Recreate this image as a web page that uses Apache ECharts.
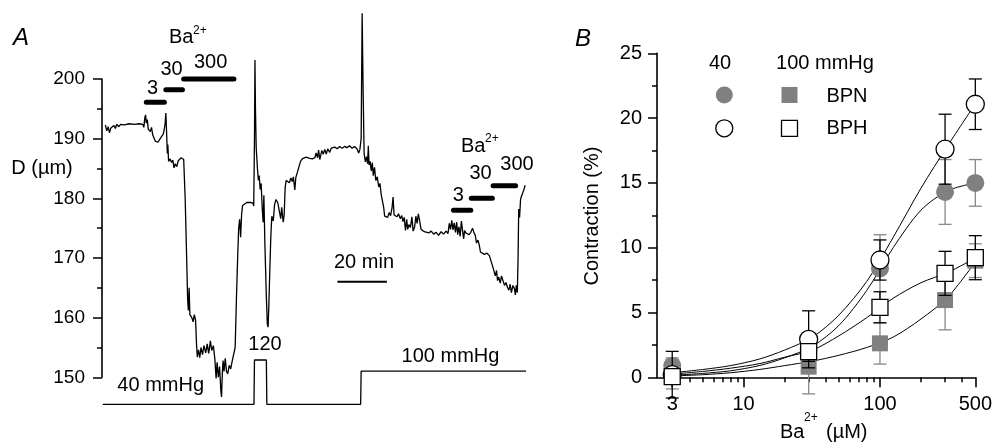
<!DOCTYPE html>
<html>
<head>
<meta charset="utf-8">
<script src="https://cdn.jsdelivr.net/npm/echarts@6/dist/echarts.min.js"></script>
<style>
  html, body { margin: 0; padding: 0; background: #fff; }
  #chart { width: 995px; height: 443px; }
</style>
</head>
<body>
<div id="chart"></div>
<script>
// ---- panel A : vessel diameter trace (time in min, D in um) ----
var traceA = [
  [1.35,192.3],[1.9,191.3],[2.5,192.0],[3.0,191.0],[3.6,191.8],[4.2,191.5],[4.8,192.2],[5.4,191.7],
  [6.0,192.4],[6.8,192.0],[7.5,192.4],[9.0,192.3],[11,192.5],[13,192.4],[15,192.5],[16.5,192.4],
  [16.9,191.9],[17.3,193.5],[17.6,194.0],[17.9,192.6],[18.3,193.2],[18.7,191.6],[19.5,191.2],[20.0,191.9],
  [20.5,190.6],[21.5,189.6],[22.6,189.4],[23.5,190.0],[24.1,189.7],[24.8,190.8],[25.5,192.5],[25.8,194.3],
  [26.1,191.0],[26.4,187.5],[26.6,189.0],[26.9,186.2],[27.5,186.6],[28.1,186.0],[28.6,186.4],[29.1,185.1],
  [29.6,185.8],[30.2,185.3],[30.8,186.3],[31.4,186.0],[32.0,186.8],[32.7,187.0],[33.0,186.5],[33.6,180],
  [34.2,170],[34.6,163],[34.9,161.2],[35.2,165.0],[35.5,160.5],[36.3,160.0],[36.8,159.3],[37.3,160.5],
  [37.8,159.6],[38.2,155.5],[38.5,153.4],[39.0,154.6],[39.5,153.3],[40.0,155.0],[40.6,153.8],[41.2,155.3],
  [41.9,154.1],[42.5,155.6],[43.1,154.0],[43.8,156.1],[44.3,154.5],[45.0,155.3],[45.6,153.0],[46.1,149.8],
  [46.5,152.5],[47.0,150.0],[47.5,151.8],[48.0,147.8],[48.3,146.7],[48.6,150.5],[48.9,152.8],[49.3,151.0],
  [49.8,153.2],[50.3,151.0],[50.8,150.6],[51.4,152.0],[52.0,151.4],[52.6,152.7],[53.3,152.9],[53.8,155],
  [54.3,163],[54.8,170],[55.2,174.9],[55.6,176.5],[56.0,173.5],[56.4,177.3],[56.8,178.8],[57.2,179.1],
  [58.5,179.3],[60,179.3],[61.0,179.2],[61.3,178.7],[61.6,190],[61.8,203.2],[62.0,195],[62.3,188.5],
  [62.8,185.0],[63.2,183.0],[63.5,183.8],[63.9,181.5],[64.3,182.5],[64.7,178.6],[65.1,176.0],[65.4,180.5],
  [65.8,172.5],[66.1,168.0],[66.4,163.5],[66.8,158.9],[67.1,158.4],[67.4,162.0],[67.8,168],[68.2,173.5],
  [68.6,177.0],[69.2,176.2],[69.7,178.9],[70.3,179.8],[71.0,179.3],[71.7,179.0],[72.2,176.6],[72.6,178.5],
  [73.2,176.0],[73.6,177.2],[74.0,181.8],[74.4,183.0],[75.1,183.3],[75.7,182.6],[76.3,183.4],[76.9,182.8],
  [77.3,183.6],[77.9,181.4],[78.3,183.5],[78.9,184.3],[79.5,184.1],[80.2,186.2],[80.9,186.6],[81.6,186.4],
  [82.4,186.9],[83.1,186.6],[84.0,186.7],[85.0,186.6],[86.0,186.8],[86.5,187.6],[87.1,186.8],[87.5,188.1],
  [88.0,186.5],[88.8,188.0],[89.4,187.4],[90.0,188.2],[90.6,187.4],[91.2,188.3],[92.0,187.7],[92.6,188.4],
  [93.3,188.1],[94.0,188.6],[95.0,188.3],[96.0,188.7],[97.0,188.4],[98.0,188.7],[99.0,188.5],[100.0,188.8],
  [101.0,188.4],[102.0,188.7],[103.0,188.3],[103.7,187.6],[104.2,188.2],[104.7,190],[105.1,211.0],[105.5,198],
  [105.9,187.5],[106.4,186.1],[106.9,187.0],[107.3,185.8],[107.6,188.8],[107.9,185.6],[108.3,186.2],[108.8,184.6],
  [109.2,186.0],[109.6,183.8],[110.1,185.2],[110.6,183.0],[111.2,183.6],[111.8,181.9],[112.3,182.5],[112.8,180.6],
  [113.4,180.9],[113.8,178.5],[114.2,177.0],[114.8,177.3],[115.4,176.8],[116.0,177.6],[116.6,177.1],[117.2,178.5],
  [117.6,180.2],[118.0,177.2],[118.6,177.5],[119.2,176.9],[119.8,177.4],[120.5,176.6],[121.1,177.1],[121.6,176.1],
  [122.1,176.8],[122.6,174.6],[123.1,176.5],[123.5,174.8],[124.0,175.6],[124.6,175.1],[125.2,176.9],[125.7,174.5],
  [126.3,175.2],[126.8,177.0],[127.3,175.8],[127.8,177.4],[128.3,176.3],[128.9,174.8],[129.5,175.0],[130.2,174.4],
  [131.0,174.6],[132.0,174.2],[133.0,174.5],[134.0,174.0],[135.0,174.3],[136.0,173.8],[137.0,174.4],[138.0,174.0],
  [139.0,174.5],[139.8,174.1],[140.3,175.8],[140.8,174.8],[141.3,176.3],[141.8,174.7],[142.3,175.9],[142.8,174.3],
  [143.3,176.0],[143.7,173.9],[144.2,175.2],[144.7,173.6],[145.2,176.2],[145.7,174.5],[146.1,173.2],[146.5,174.6],
  [147.0,174.2],[147.6,174.4],[148.3,173.9],[149.0,174.3],[149.7,175.0],[150.3,174.2],[150.8,173.8],[151.3,172.5],
  [151.9,173.0],[152.4,172.2],[152.9,171.0],[153.5,170.7],[154.5,170.6],[155.5,170.8],[156.5,170.4],[157.3,170.1],
  [157.9,168.5],[158.4,168.8],[158.9,167.0],[159.4,167.9],[159.8,166.2],[160.3,166.8],[160.9,165.8],[161.4,167.0],
  [162.0,166.2],[162.6,165.4],[163.2,165.9],[163.8,165.1],[164.4,164.6],[164.9,165.6],[165.4,164.2],[166.0,165.4],
  [166.6,164.9],[167.0,163.8],[167.4,165.4],[167.8,164.2],[168.1,170],[168.35,178.2],[168.7,176.8],[169.1,179.8],
  [169.5,180.4],[170.0,180.1],[170.5,181.5],[170.93,182.2]
];
// intraluminal pressure (mmHg)
var pressureA = [[0.3,40],[61.4,40],[61.6,120],[66.4,120],[66.6,40],[104.5,40],[104.7,100],[171.3,100]];
// Ba2+ application bars: [start min, end min, drawn at D level]
var baBars = [[17.9,25.2,196.1],[25.8,32.5,198.2],[33.0,53.3,200.0],
              [142.0,149.0,178.0],[149.2,157.7,180.0],[158.0,167.1,182.1]];
var scaleBar = [[95.1,166.0],[115.1,166.0]]; // 20 min

// ---- panel B : concentration-response ----
var conc = [3, 30, 100, 300, 500];
var bpn40 = [0.9, 2.2, 8.4, 14.3, 15.0];
var bpn40Sem = [0.6, 0.9, 2.6, 2.5, 1.8];
var bph40 = [0.2, 2.93, 9.05, 17.6, 21.07];
var bph40Sem = [1.8, 2.2, 1.55, 2.7, 1.95];
var bpn100 = [0.1, 0.82, 2.62, 5.96, 9.0];
var bpn100Sem = [1.0, 2.1, 1.6, 2.3, 1.3];
var bph100 = [0.05, 1.98, 5.4, 8.02, 9.23];
var bph100Sem = [0.3, 0.75, 1.2, 1.7, 1.7];
// fitted curves
var fitConc = [3, 5, 8, 13, 20, 32, 50, 80, 125, 200, 315, 500];
var fitBph40 = [0.35, 0.6, 0.9, 1.4, 2.1, 3.1, 4.8, 7.4, 10.8, 14.6, 17.9, 21.1];
var fitBpn40 = [0.15, 0.3, 0.5, 0.9, 1.5, 2.4, 4.0, 6.7, 10.0, 12.9, 14.4, 15.0];
var fitBph100 = [0.25, 0.45, 0.7, 1.05, 1.55, 2.1, 3.2, 4.6, 6.1, 7.3, 8.1, 9.2];
var fitBpn100 = [0.1, 0.2, 0.35, 0.6, 0.9, 1.25, 1.7, 2.3, 3.1, 4.5, 6.2, 8.9];
var concLabels = [3, 10, 100, 500];
var concMinor = [4, 5, 6, 7, 8, 9, 20, 30, 40, 50, 60, 70, 80, 90, 200, 300, 400];

var FONT = 'Liberation Sans, Arial, Helvetica, sans-serif';
var GREY = '#808080';
var lg = function (v) { return Math.log10(v); };

function txt(s, x, y, size, opt) {
  opt = opt || {};
  return {
    type: 'text', x: x, y: y, rotation: opt.rot || 0, z: 100,
    style: {
      text: s, x: 0, y: 0, fill: '#000',
      font: (opt.italic ? 'italic ' : '') + size + 'px ' + FONT,
      align: opt.align || 'center', textAlign: opt.align || 'center',
      verticalAlign: 'middle', textVerticalAlign: 'middle'
    }
  };
}

function errSeries(vals, sems, color, z) {
  return {
    type: 'custom', xAxisIndex: 2, yAxisIndex: 2, z: z, clip: false, silent: true,
    encode: { x: 0, y: [1, 2] },
    data: conc.map(function (c, i) { return [lg(c), vals[i] - sems[i], vals[i] + sems[i]]; }),
    renderItem: function (params, api) {
      var lo = api.coord([api.value(0), api.value(1)]);
      var hi = api.coord([api.value(0), api.value(2)]);
      var w = 6.5;
      var st = { stroke: color, lineWidth: 1.3 };
      return { type: 'group', children: [
        { type: 'line', shape: { x1: lo[0], y1: lo[1], x2: hi[0], y2: hi[1] }, style: st },
        { type: 'line', shape: { x1: lo[0] - w, y1: lo[1], x2: lo[0] + w, y2: lo[1] }, style: st },
        { type: 'line', shape: { x1: hi[0] - w, y1: hi[1], x2: hi[0] + w, y2: hi[1] }, style: st }
      ]};
    }
  };
}

function pts(vals) { return conc.map(function (c, i) { return [lg(c), vals[i]]; }); }
function fitLine(vals) {
  return {
    type: 'line', xAxisIndex: 2, yAxisIndex: 2, z: 2, silent: true, symbol: 'none',
    smooth: 0.3,
    lineStyle: { color: '#000', width: 1 },
    data: fitConc.map(function (c, i) { return [lg(c), vals[i]]; })
  };
}
function marks(vals, symbol, size, filled, z) {
  return {
    type: 'scatter', xAxisIndex: 2, yAxisIndex: 2, z: z, silent: true,
    symbol: symbol, symbolSize: size, data: pts(vals),
    itemStyle: filled ? { color: GREY, opacity: 1 } :
      { color: '#fff', borderColor: '#000', borderWidth: 1.3, opacity: 1 }
  };
}

var chart = echarts.init(document.getElementById('chart'));

var series = [
  { type: 'line', xAxisIndex: 0, yAxisIndex: 0, data: traceA, symbol: 'none', clip: false,
    silent: true, lineStyle: { color: '#000', width: 1.3 } },
  { type: 'line', xAxisIndex: 1, yAxisIndex: 1, data: pressureA, symbol: 'none', clip: false,
    silent: true, lineStyle: { color: '#000', width: 1.3 } },
  { type: 'line', xAxisIndex: 0, yAxisIndex: 0, data: scaleBar, symbol: 'none', clip: false,
    silent: true, lineStyle: { color: '#000', width: 2 } }
];
baBars.forEach(function (b) {
  series.push({ type: 'line', xAxisIndex: 0, yAxisIndex: 0, symbol: 'none', clip: false, silent: true,
    data: [[b[0], b[2]], [b[1], b[2]]], lineStyle: { color: '#000', width: 5, cap: 'round' } });
});
series.push(
  errSeries(bpn40, bpn40Sem, '#888', 1),
  errSeries(bpn100, bpn100Sem, '#888', 1),
  fitLine(fitBph40), fitLine(fitBpn40), fitLine(fitBph100), fitLine(fitBpn100),
  marks(bpn40, 'circle', 18, true, 3),
  marks(bpn100, 'rect', 16, true, 4),
  errSeries(bph40, bph40Sem, '#000', 5),
  errSeries(bph100, bph100Sem, '#000', 5),
  marks(bph40, 'circle', 18, false, 6),
  marks(bph100, 'rect', 16, false, 7)
);

var axisLineStyle = { color: '#000', width: 1.6 };

chart.setOption({
  animation: false,
  backgroundColor: '#fff',
  grid: [
    { left: 102, top: 79, width: 424, height: 298.3 },
    { left: 102, top: 360, width: 424, height: 44.3 },
    { left: 657, top: 53.3, width: 318.7, height: 324 }
  ],
  xAxis: [
    { gridIndex: 0, type: 'value', min: 0, max: 171.3, show: false },
    { gridIndex: 1, type: 'value', min: 0, max: 171.3, show: false },
    { gridIndex: 2, type: 'value', position: 'bottom', min: lg(2.32), max: lg(500),
      axisLine: { show: true, lineStyle: axisLineStyle },
      axisTick: { show: true, length: 5, lineStyle: { color: '#000', width: 1.5 },
        customValues: concMinor.map(lg) },
      axisLabel: { show: true, customValues: concLabels.map(lg), margin: 17,
        color: '#000', fontSize: 20, fontFamily: FONT,
        formatter: function (v) { return String(Math.round(Math.pow(10, v))); } },
      splitLine: { show: false } },
    { gridIndex: 2, type: 'value', position: 'bottom', min: lg(2.32), max: lg(500),
      axisLine: { show: false },
      axisTick: { show: true, length: 10, lineStyle: { color: '#000', width: 1.6 },
        customValues: concLabels.map(lg) },
      axisLabel: { show: false }, splitLine: { show: false } }
  ],
  yAxis: [
    { gridIndex: 0, type: 'value', min: 150, max: 200, interval: 10, offset: 3,
      axisLine: { show: true, lineStyle: axisLineStyle },
      axisTick: { show: true, length: 9, lineStyle: { color: '#000', width: 1.5 } },
      minorTick: { show: true, splitNumber: 2, length: 5, lineStyle: { color: '#000', width: 1.5 } },
      axisLabel: { color: '#000', fontSize: 19, fontFamily: FONT, margin: 14 },
      splitLine: { show: false } },
    { gridIndex: 1, type: 'value', min: 40, max: 120, show: false },
    { gridIndex: 2, type: 'value', min: 0, max: 25, interval: 5,
      axisLine: { show: true, lineStyle: axisLineStyle },
      axisTick: { show: true, length: 9, lineStyle: { color: '#000', width: 1.5 } },
      minorTick: { show: true, splitNumber: 2, length: 5, lineStyle: { color: '#000', width: 1.5 } },
      axisLabel: { color: '#000', fontSize: 20, fontFamily: FONT, margin: 15 },
      splitLine: { show: false } }
  ],
  graphic: [
    // panel A text
    txt('A', 21, 38, 24, { italic: true }),
    txt('Ba', 169, 37, 20, { align: 'left' }),
    txt('2+', 193, 31, 12, { align: 'left' }),
    txt('3', 152.5, 88, 20),
    txt('30', 171.5, 69, 20),
    txt('300', 210.6, 62, 20),
    txt('D (\u00b5m)', 42, 168, 20),
    txt('20 min', 364, 262, 20),
    txt('120', 265, 344, 20),
    txt('40 mmHg', 160.7, 385, 20),
    txt('100 mmHg', 450.5, 356, 20),
    txt('Ba', 461, 146, 20, { align: 'left' }),
    txt('2+', 485, 139, 12, { align: 'left' }),
    txt('3', 458.4, 195, 20),
    txt('30', 480.5, 173, 20),
    txt('300', 517, 164, 20),
    // panel B text
    txt('B', 583, 39, 24, { italic: true }),
    txt('Contraction (%)', 592.5, 216, 20, { rot: Math.PI / 2 }),
    txt('Ba', 780, 432, 20, { align: 'left' }),
    txt('2+', 804, 418, 12, { align: 'left' }),
    txt('(\u00b5M)', 826, 432, 20, { align: 'left' }),
    txt('40', 720, 63, 20),
    txt('100 mmHg', 825, 63, 20),
    txt('BPN', 847, 96, 20),
    txt('BPH', 847, 128.5, 20),
    { type: 'circle', shape: { cx: 724.3, cy: 95, r: 8.5 }, style: { fill: GREY } },
    { type: 'rect', shape: { x: 781.5, y: 87, width: 16, height: 16 }, style: { fill: GREY } },
    { type: 'circle', shape: { cx: 724.3, cy: 128.3, r: 8.5 }, style: { fill: '#fff', stroke: '#000', lineWidth: 1.3 } },
    { type: 'rect', shape: { x: 781.5, y: 120.3, width: 16, height: 16 }, style: { fill: '#fff', stroke: '#000', lineWidth: 1.3 } }
  ],
  series: series
});
</script>
</body>
</html>
